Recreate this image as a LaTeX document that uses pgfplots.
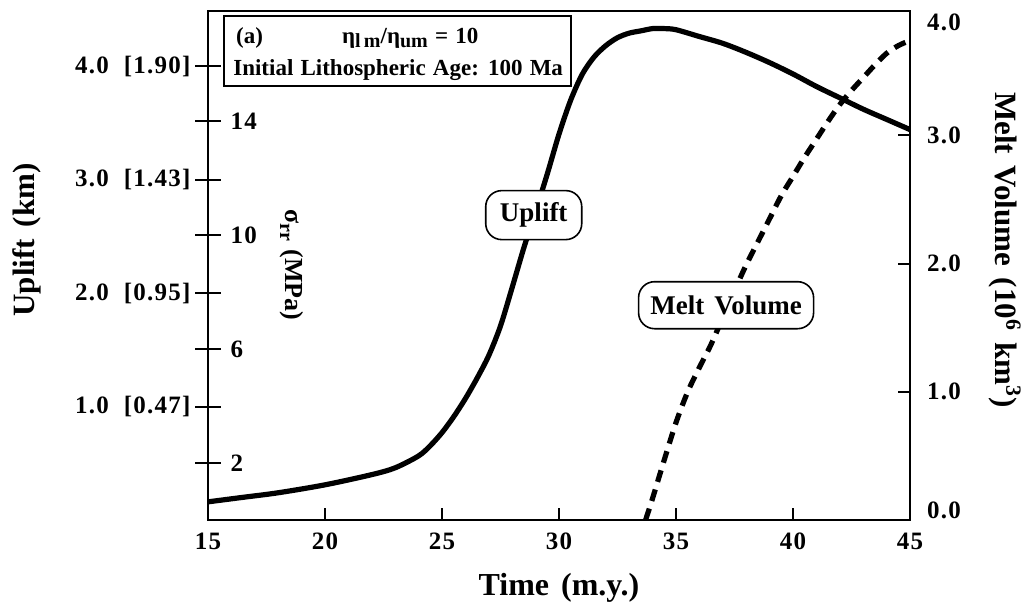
\documentclass[border=0pt]{standalone}
\usepackage{fontspec}
\setmainfont{Liberation Serif}[WordSpace=1.5]
\newfontfamily\tickfont{Liberation Serif}[LetterSpace=5]
\newfontfamily\notefont{Liberation Serif}[WordSpace=1.25]
\usepackage{pgfplots}
\pgfplotsset{compat=1.18}

% uplift (km) vs time (m.y.)
\pgfplotstableread{
t    up
15.0 0.16
16.5 0.20
18.0 0.24
20.0 0.31
22.0 0.40
23.0 0.46
24.0 0.565
24.5 0.655
25.0 0.77
25.5 0.91
26.0 1.07
26.5 1.25
27.0 1.45
27.5 1.71
28.0 2.05
28.5 2.40
29.0 2.72
29.5 3.05
30.0 3.40
30.5 3.70
31.0 3.93
31.5 4.08
32.0 4.18
32.5 4.25
33.0 4.29
33.5 4.31
34.0 4.33
34.5 4.33
35.0 4.32
36.0 4.26
37.0 4.20
38.0 4.12
39.0 4.03
40.0 3.93
41.0 3.82
42.0 3.72
43.0 3.62
44.0 3.53
45.0 3.44
}\uplift

% melt volume (10^6 km^3)
\pgfplotstableread{
t    mv
33.7 0.00
34.0 0.17
34.5 0.47
35.0 0.76
35.5 1.00
36.0 1.19
36.5 1.37
37.0 1.58
37.5 1.79
38.0 1.99
38.5 2.17
39.0 2.35
39.5 2.53
40.0 2.68
40.5 2.83
41.0 2.97
41.5 3.11
42.0 3.24
42.5 3.35
43.0 3.45
43.5 3.55
44.0 3.64
44.5 3.70
45.0 3.74
}\melt

\pgfplotsset{
  every axis/.append style={
    scale only axis, width=351pt, height=254.5pt,
    at={(0,0)}, anchor=south west,
    xmin=15, xmax=45,
    axis line style={line width=1pt},
    every tick/.style={line width=1pt, black},
    /pgf/number format/assume math mode=true,
    ticklabel style={font=\tickfont\bfseries\fontsize{12.5}{14}\selectfont},
  },
}

\begin{document}
\begin{tikzpicture}[font=\bfseries]
% box + uplift scale
\begin{axis}[
  ymin=0, ymax=4.485,
  xtick=\empty,
  ytick={1,2,3,4},
  yticklabels={1.0\hspace{0.6em}[0.47],2.0\hspace{0.6em}[0.95],3.0\hspace{0.6em}[1.43],4.0\hspace{0.6em}[1.90]},
  ytick pos=left,
  tick align=center, major tick length=12.5pt,
  yticklabel style={xshift=1pt},
]
\addplot[line width=2.6pt, smooth, tension=0.5] table[x=t, y=up] {\uplift};
\end{axis}

% time axis
\begin{axis}[
  hide y axis, axis x line*=bottom,
  ymin=0, ymax=1,
  xtick={15,20,...,45},
  tick align=inside, major tick length=6pt,
  xticklabel style={yshift=-3pt},
]
\end{axis}

% stress scale
\begin{axis}[
  hide x axis, axis y line*=left,
  ymin=0, ymax=17.86,
  ytick={2,6,10,14},
  tick align=center, major tick length=12.5pt,
  yticklabel style={anchor=west, xshift=14pt},
]
\end{axis}

% melt volume scale
\begin{axis}[
  hide x axis, axis y line*=right,
  ymin=0, ymax=3.97,
  ytick={1,2,3}, yticklabels={1.0,2.0,3.0},
  extra y ticks={0.078,3.88}, extra y tick labels={0.0,4.0},
  extra y tick style={major tick length=0pt},
  tick align=inside, major tick length=6pt,
  yticklabel style={xshift=5pt},
]
\addplot[line width=2.6pt, smooth, tension=0.5, dash pattern=on 6pt off 4pt] table[x=t, y=mv] {\melt};

\node[draw, line width=0.8pt, fill=white, anchor=north west, inner sep=0pt,
      minimum width=173.5pt, minimum height=35pt]
  at (rel axis cs:0.0214,0.992) {};
\node[anchor=base west, font=\notefont\bfseries\fontsize{11.5}{14}\selectfont] at (rel axis cs:0.030,0.937) {(a)};
\node[anchor=base, font=\notefont\bfseries\fontsize{11.5}{14}\selectfont] at (rel axis cs:0.288,0.937)
  {η\raisebox{-0.45ex}{\fontsize{10}{10}\selectfont l\,m}/η\raisebox{-0.45ex}{\fontsize{10}{10}\selectfont um} = 10};
\node[anchor=base west, font=\notefont\bfseries\fontsize{11.5}{14}\selectfont] at (rel axis cs:0.026,0.874)
  {Initial Lithospheric Age: 100 Ma};

\node[draw, line width=0.8pt, fill=white, rounded corners=8pt, minimum width=48pt, minimum height=24.5pt,
      font=\bfseries\fontsize{13.5}{15}\selectfont] at (rel axis cs:0.464,0.599) {Uplift};
\node[draw, line width=0.8pt, fill=white, rounded corners=8pt, minimum width=87.5pt, minimum height=23.5pt,
      font=\bfseries\fontsize{13.5}{15}\selectfont] at (rel axis cs:0.738,0.422) {Melt Volume};
\end{axis}

% axis titles
\node[font=\bfseries\fontsize{16}{18}\selectfont] at (175.5pt,-34pt) {Time (m.y.)};
\node[rotate=90, font=\bfseries\fontsize{15.5}{17}\selectfont] at (-90.5pt,140pt) {Uplift (km)};
\node[rotate=-90, font=\bfseries\fontsize{13}{15}\selectfont] at (42pt,127.5pt)
  {σ\raisebox{-0.5ex}{\fontsize{10}{10}\selectfont rr}\hspace{0.3em}(MPa)};
\node[rotate=-90, font=\bfseries\fontsize{15.5}{17}\selectfont] at (398.5pt,135pt)
  {Melt Volume (10\textsuperscript{6} km\textsuperscript{3})};

\pgfresetboundingbox
\path[use as bounding box] (-104pt,-42.5pt) rectangle (411.5pt,260pt);
\end{tikzpicture}
\end{document}
